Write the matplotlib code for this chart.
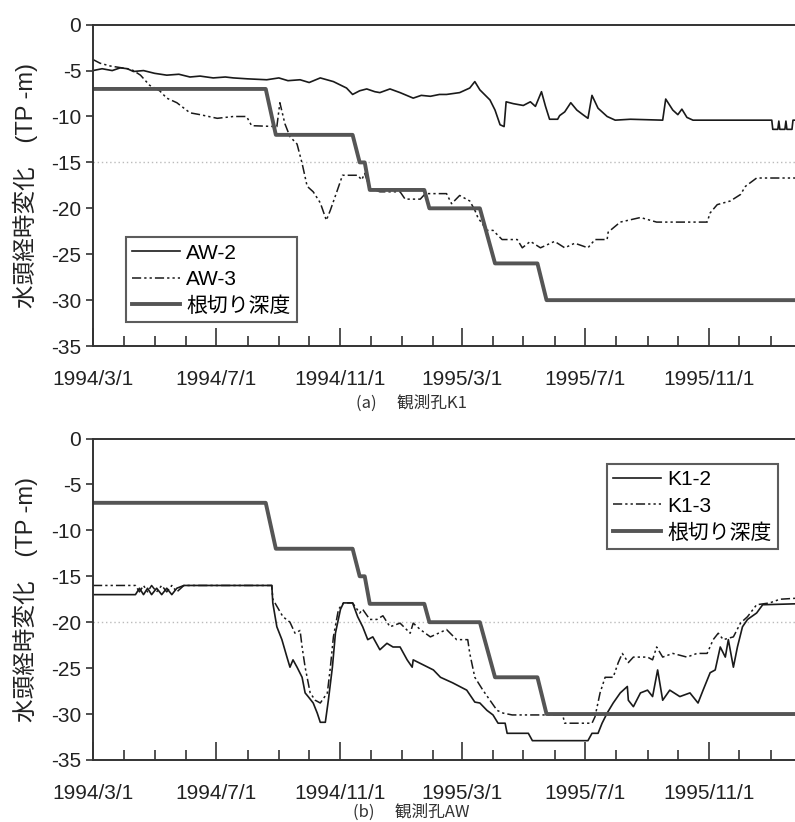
import matplotlib
matplotlib.use('Agg')
import matplotlib.pyplot as plt
import matplotlib.dates as mdates
from matplotlib.ticker import FuncFormatter
import pandas as pd

plt.rcParams['font.family'] = ['Liberation Sans', 'Noto Sans CJK JP']
plt.rcParams['axes.unicode_minus'] = False

# excavation depth (same for both holes)
cut_dates = ['1994-03-01', '1994-08-19', '1994-08-29', '1994-11-13', '1994-11-20',
             '1994-11-25', '1994-11-30', '1995-01-23', '1995-01-28', '1995-03-19',
             '1995-04-03', '1995-05-15', '1995-05-24', '1996-01-25']
cut_vals = [-7, -7, -12, -12, -15, -15, -18, -18, -20, -20, -26, -26, -30, -30]

# (a) hole K1
aw2_dates = ['1994-03-01', '1994-03-10', '1994-03-20', '1994-03-28', '1994-04-04', '1994-04-10',
             '1994-04-20', '1994-05-01', '1994-05-13', '1994-05-25', '1994-06-05', '1994-06-15',
             '1994-06-28', '1994-07-10', '1994-07-18', '1994-08-01', '1994-08-20', '1994-09-01',
             '1994-09-10', '1994-09-22', '1994-10-01', '1994-10-12', '1994-10-25', '1994-11-07',
             '1994-11-13', '1994-11-20', '1994-11-27', '1994-12-05', '1994-12-10', '1994-12-20',
             '1994-12-30', '1995-01-12', '1995-01-20', '1995-01-29', '1995-02-07', '1995-02-14',
             '1995-02-27', '1995-03-09', '1995-03-14', '1995-03-19', '1995-03-29', '1995-04-03',
             '1995-04-08', '1995-04-12', '1995-04-14', '1995-04-21', '1995-05-01', '1995-05-08',
             '1995-05-13', '1995-05-19', '1995-05-23', '1995-05-27', '1995-06-04', '1995-06-06',
             '1995-06-11', '1995-06-17', '1995-06-23', '1995-06-29', '1995-07-04', '1995-07-08',
             '1995-07-14', '1995-07-23', '1995-07-31', '1995-08-15', '1995-09-16', '1995-09-19',
             '1995-09-26', '1995-10-01', '1995-10-05', '1995-10-10', '1995-10-16', '1996-01-02',
             '1996-01-03', '1996-01-08', '1996-01-09', '1996-01-10', '1996-01-15', '1996-01-16',
             '1996-01-17', '1996-01-22', '1996-01-23', '1996-01-25']
aw2_vals = [-5.0, -4.8, -5.0, -4.7, -4.8, -5.1,
            -5.0, -5.3, -5.5, -5.4, -5.7, -5.6,
            -5.8, -5.7, -5.8, -5.9, -6.0, -5.8,
            -6.1, -6.0, -6.3, -5.8, -6.2, -6.9,
            -7.6, -7.2, -7.0, -7.3, -7.4, -7.0,
            -7.4, -8.0, -7.7, -7.8, -7.6, -7.6,
            -7.4, -6.9, -6.2, -7.1, -8.2, -9.3,
            -10.9, -11.1, -8.4, -8.6, -8.8, -8.4,
            -8.9, -7.3, -8.9, -10.3, -10.3, -9.9,
            -9.5, -8.5, -9.3, -9.8, -10.2, -7.7,
            -9.1, -10.0, -10.4, -10.3, -10.4, -8.1,
            -9.3, -9.8, -9.2, -10.1, -10.4, -10.4,
            -11.4, -11.4, -10.5, -11.4, -11.4, -10.5,
            -11.4, -11.4, -10.4, -10.4]

aw3_dates = ['1994-03-01', '1994-03-08', '1994-03-18', '1994-04-04', '1994-04-10', '1994-04-17',
             '1994-04-26', '1994-05-06', '1994-05-13', '1994-05-23', '1994-06-05', '1994-06-15',
             '1994-07-02', '1994-07-18', '1994-07-31', '1994-08-05', '1994-08-30', '1994-09-02',
             '1994-09-07', '1994-09-12', '1994-09-19', '1994-09-24', '1994-09-29', '1994-10-05',
             '1994-10-12', '1994-10-18', '1994-10-22', '1994-10-29', '1994-11-03', '1994-11-18',
             '1994-11-22', '1994-11-25', '1994-11-30', '1994-12-10', '1994-12-30', '1995-01-04',
             '1995-01-19', '1995-01-24', '1995-02-14', '1995-02-19', '1995-02-27', '1995-03-09',
             '1995-03-14', '1995-03-17', '1995-03-26', '1995-04-01', '1995-04-10', '1995-04-25',
             '1995-04-30', '1995-05-08', '1995-05-18', '1995-06-01', '1995-06-11', '1995-06-21',
             '1995-07-04', '1995-07-11', '1995-07-23', '1995-07-24', '1995-08-05', '1995-08-25',
             '1995-09-10', '1995-10-30', '1995-11-02', '1995-11-09', '1995-11-22', '1995-12-02',
             '1995-12-07', '1995-12-18', '1996-01-25']
aw3_vals = [-3.8, -4.2, -4.5, -4.8, -5.0, -5.5,
            -6.6, -7.2, -8.0, -8.5, -9.6, -9.8,
            -10.2, -10.0, -10.0, -11.0, -11.1, -8.5,
            -10.8, -12.2, -13.0, -15.1, -17.6, -18.2,
            -19.4, -21.3, -20.2, -18.0, -16.4, -16.4,
            -16.9, -16.2, -17.8, -18.2, -18.2, -19.0,
            -19.0, -18.4, -18.4, -19.5, -18.6, -19.2,
            -20.2, -21.0, -22.4, -22.4, -23.4, -23.4,
            -24.3, -23.6, -24.3, -23.6, -24.3, -23.8,
            -24.3, -23.4, -23.4, -22.6, -21.5, -21.0,
            -21.5, -21.5, -20.5, -19.6, -19.2, -18.5,
            -17.6, -16.7, -16.7]

# (b) hole AW
k12_dates = ['1994-03-01', '1994-04-12', '1994-04-16', '1994-04-20', '1994-04-24', '1994-04-28',
             '1994-05-03', '1994-05-08', '1994-05-13', '1994-05-18', '1994-05-23', '1994-05-30',
             '1994-08-25', '1994-08-26', '1994-08-30', '1994-09-04', '1994-09-09', '1994-09-12',
             '1994-09-15', '1994-09-19', '1994-09-24', '1994-09-27', '1994-09-30', '1994-10-05',
             '1994-10-09', '1994-10-12', '1994-10-17', '1994-10-20', '1994-10-24', '1994-10-27',
             '1994-11-01', '1994-11-04', '1994-11-13', '1994-11-18', '1994-11-23', '1994-11-28',
             '1994-12-03', '1994-12-10', '1994-12-17', '1994-12-23', '1994-12-30', '1995-01-06',
             '1995-01-11', '1995-01-12', '1995-02-01', '1995-02-08', '1995-02-20', '1995-02-27',
             '1995-03-06', '1995-03-14', '1995-03-19', '1995-03-26', '1995-04-01', '1995-04-06',
             '1995-04-13', '1995-04-15', '1995-05-06', '1995-05-10', '1995-07-04', '1995-07-08',
             '1995-07-14', '1995-07-18', '1995-07-23', '1995-07-29', '1995-08-05', '1995-08-12',
             '1995-08-13', '1995-08-18', '1995-08-25', '1995-09-01', '1995-09-06', '1995-09-11',
             '1995-09-16', '1995-09-23', '1995-10-03', '1995-10-13', '1995-10-21', '1995-10-26',
             '1995-11-02', '1995-11-07', '1995-11-12', '1995-11-17', '1995-11-20', '1995-11-25',
             '1995-11-29', '1995-12-04', '1995-12-09', '1995-12-18', '1995-12-24', '1996-01-25']
k12_vals = [-17.0, -17.0, -16.3, -17.0, -16.3, -17.0,
            -16.3, -17.0, -16.3, -17.0, -16.3, -16.0,
            -16.0, -17.9, -20.5, -21.9, -23.8, -24.9,
            -24.1, -24.9, -26.0, -27.7, -28.1, -28.8,
            -29.9, -30.9, -30.9, -28.5, -24.9, -21.2,
            -18.6, -17.9, -17.9, -19.4, -20.5, -21.9,
            -21.6, -23.0, -22.3, -22.7, -22.7, -24.1,
            -24.9, -24.1, -25.2, -26.0, -26.6, -27.0,
            -27.4, -28.7, -28.8, -29.6, -30.1, -31.0,
            -31.0, -32.1, -32.1, -32.9, -32.9, -32.1,
            -32.1, -31.0, -29.9, -28.8, -27.7, -27.0,
            -28.5, -29.2, -27.7, -27.4, -28.1, -25.2,
            -28.5, -27.4, -28.1, -27.7, -28.8, -27.4,
            -25.5, -25.2, -22.7, -23.8, -21.9, -24.9,
            -22.7, -20.5, -19.7, -19.0, -18.1, -18.0]

k13_dates = ['1994-03-01', '1994-04-12', '1994-04-16', '1994-04-20', '1994-04-24', '1994-04-28',
             '1994-05-03', '1994-05-08', '1994-05-13', '1994-05-18', '1994-05-23', '1994-05-30',
             '1994-08-25', '1994-08-26', '1994-09-05', '1994-09-12', '1994-09-17', '1994-09-22',
             '1994-09-24', '1994-09-27', '1994-10-02', '1994-10-07', '1994-10-12', '1994-10-19',
             '1994-10-22', '1994-10-25', '1994-10-30', '1994-11-04', '1994-11-13', '1994-11-20',
             '1994-11-23', '1994-11-30', '1994-12-07', '1994-12-13', '1994-12-20', '1994-12-30',
             '1995-01-09', '1995-01-12', '1995-01-19', '1995-01-29', '1995-02-14', '1995-02-24',
             '1995-03-07', '1995-03-09', '1995-03-14', '1995-03-22', '1995-03-29', '1995-04-05',
             '1995-04-11', '1995-04-20', '1995-06-09', '1995-06-11', '1995-07-08', '1995-07-11',
             '1995-07-16', '1995-07-21', '1995-07-29', '1995-08-03', '1995-08-07', '1995-08-13',
             '1995-08-18', '1995-09-01', '1995-09-06', '1995-09-10', '1995-09-16', '1995-09-26',
             '1995-10-10', '1995-10-20', '1995-10-30', '1995-11-05', '1995-11-10', '1995-11-15',
             '1995-11-25', '1995-12-02', '1995-12-09', '1995-12-18', '1995-12-31', '1996-01-10',
             '1996-01-25']
k13_vals = [-16.0, -16.0, -16.7, -16.0, -16.7, -16.0,
            -16.7, -16.0, -16.7, -16.0, -16.7, -16.0,
            -16.0, -17.5, -19.4, -20.0, -21.2, -20.9,
            -22.7, -24.9, -27.7, -28.5, -28.8, -27.7,
            -24.9, -21.6, -18.6, -17.9, -17.9, -19.0,
            -18.6, -19.7, -19.7, -19.3, -20.5, -20.1,
            -21.2, -20.1, -20.8, -21.6, -20.8, -21.9,
            -21.9, -23.4, -26.0, -27.4, -28.5, -29.6,
            -29.9, -30.1, -30.1, -31.0, -31.0, -30.3,
            -27.7, -26.0, -26.0, -24.4, -23.4, -24.4,
            -23.8, -23.8, -24.1, -22.7, -23.8, -23.4,
            -23.8, -23.4, -23.4, -21.9, -21.2, -21.9,
            -21.6, -20.1, -19.4, -18.1, -17.9, -17.5,
            -17.4]

panels = [
    dict(series=[('AW-2', aw2_dates, aw2_vals), ('AW-3', aw3_dates, aw3_vals)],
         dotted=-15, caption='(a)\u3000 観測孔K1', legend_loc='lower left',
         legend_anchor=(0.047, 0.075), caption_y=0.510),
    dict(series=[('K1-2', k12_dates, k12_vals), ('K1-3', k13_dates, k13_vals)],
         dotted=-20, caption='(b)\u3000 観測孔AW', legend_loc='upper right',
         legend_anchor=(0.976, 0.92), caption_y=0.012),
]

y_ticks = [0, -5, -10, -15, -20, -25, -30, -35]
x_start, x_end = pd.Timestamp('1994-03-01'), pd.Timestamp('1996-01-25')

fig = plt.figure(figsize=(7.95, 8.22), dpi=100)
axes_rects = [[0.117, 0.579, 0.883, 0.391], [0.117, 0.0755, 0.883, 0.391]]

for rect, p in zip(axes_rects, panels):
    ax = fig.add_axes(rect)
    ax.axhline(p['dotted'], color='#bbbbbb', lw=1, ls=(0, (1, 2)), zorder=0)
    (n1, d1, v1), (n2, d2, v2) = p['series']
    ax.plot(pd.to_datetime(d1), v1, color='#1a1a1a', lw=1.2, label=n1)
    ax.plot(pd.to_datetime(d2), v2, color='#1a1a1a', lw=1.1,
            ls=(0, (6, 2, 1.5, 2, 1.5, 2)), label=n2)
    ax.plot(pd.to_datetime(cut_dates), cut_vals, color='#555555', lw=2.8,
            label='根切り深度')

    ax.set_xlim(x_start, x_end)
    ax.set_ylim(-35, 0)
    ax.set_yticks(y_ticks)
    ax.xaxis.set_major_locator(mdates.MonthLocator(bymonth=[3, 7, 11]))
    ax.xaxis.set_minor_locator(mdates.MonthLocator())
    ax.xaxis.set_major_formatter(FuncFormatter(
        lambda v, pos: (lambda d: f'{d.year}/{d.month}/{d.day}')(mdates.num2date(v))))
    ax.tick_params(axis='x', which='major', direction='in', length=13, width=1.2,
                   labelsize=15, pad=17, color='#333333', labelcolor='#222222')
    ax.tick_params(axis='x', which='minor', direction='in', length=7, width=1.2,
                   color='#333333')
    ax.tick_params(axis='y', direction='out', length=5, width=1.2, labelsize=15,
                   color='#333333', labelcolor='#222222')
    for s in ['left', 'bottom', 'top']:
        ax.spines[s].set_linewidth(1.4)
        ax.spines[s].set_color('#333333')
    ax.spines['right'].set_visible(False)

    ax.set_ylabel('水頭経時変化\u3000(TP -m)', fontsize=17, labelpad=9, color='#222222')

    leg = ax.legend(loc=p['legend_loc'], bbox_to_anchor=p['legend_anchor'],
                    fontsize=15, frameon=True, fancybox=False, handlelength=2.3,
                    handletextpad=0.3, borderpad=0.3, labelspacing=0.35,
                    borderaxespad=0)
    leg.get_frame().set_edgecolor('#333333')
    leg.get_frame().set_linewidth(1.5)

    fig.text(0.517, p['caption_y'], p['caption'], fontsize=12, ha='center',
             va='center', color='#333333', family=['Noto Sans CJK JP'])

fig.savefig('out.png', dpi=100)
plt.close(fig)
